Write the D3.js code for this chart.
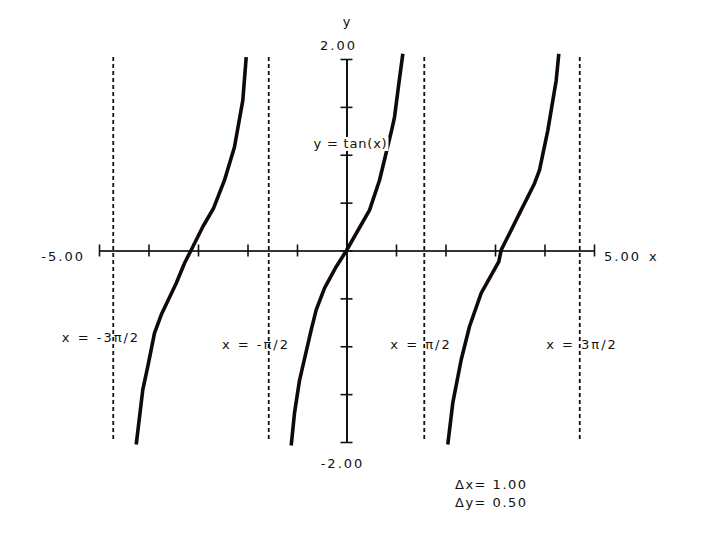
<!DOCTYPE html>
<html>
<head>
<meta charset="utf-8">
<script src="https://cdn.jsdelivr.net/npm/d3@7"></script>
<style>
  html, body { margin: 0; padding: 0; background: #fff; }
  svg { display: block; }
  text { font-family: "DejaVu Sans", Verdana, sans-serif; font-size: 13px; fill: #111; }
</style>
</head>
<body>
<svg id="chart" width="720" height="540"></svg>
<script>
// ---- data ----
const xDomain = [-5, 5];
const yDomain = [-2, 2];
const xTickValues = [-5, -4, -3, -2, -1, 0, 1, 2, 3, 4, 5];
const yTickValues = [-2, -1.5, -1, -0.5, 0, 0.5, 1, 1.5, 2];
const xEndLabels = ["-5.00", "5.00"];
const yEndLabels = ["-2.00", "2.00"];
const asymptoteX = [-4.712, -1.571, 1.571, 4.712];
const asymptoteLabels = ["x = -3π/2", "x = -π/2", "x = π/2", "x = 3π/2"];
const curveLabel = "y = tan(x)";
const deltaLabels = ["Δx= 1.00", "Δy= 0.50"];

// tan(x) branches, [x, y] points
const branchLeft = [
  [-4.248, -2.026], [-4.115, -1.453], [-4.014, -1.21], [-3.879, -0.862],
  [-3.743, -0.672], [-3.44, -0.342], [-3.273, -0.133], [-3.137, 0.005],
  [-2.903, 0.248], [-2.687, 0.44], [-2.465, 0.734], [-2.263, 1.081],
  [-2.095, 1.568], [-2.026, 2.019]
];
const branchMid = [
  [-1.117, -2.036], [-1.05, -1.696], [-0.949, -1.356], [-0.713, -0.828],
  [-0.612, -0.62], [-0.444, -0.394], [-0.208, -0.169], [0.0, 0.0],
  [0.465, 0.422], [0.667, 0.734], [0.814, 1.047],
  [0.915, 1.262], [0.97, 1.394], [1.057, 1.742], [1.138, 2.054]
];
const branchRight = [
  [2.046, -2.026], [2.147, -1.592], [2.317, -1.141], [2.485, -0.794],
  [2.721, -0.446], [3.077, -0.117], [3.125, 0.005],
  [3.226, 0.109], [3.495, 0.388], [3.798, 0.70], [3.899, 0.839],
  [4.067, 1.255], [4.236, 1.776], [4.289, 2.054]
];

// ---- drawing ----
const svg = d3.select("#chart");
const x = d3.scaleLinear().domain(xDomain).range([99, 594]);
const y = d3.scaleLinear().domain(yDomain).range([442, 59]);

// asymptotes
svg.append("g").selectAll("line").data(asymptoteX).join("line")
  .attr("x1", d => x(d)).attr("x2", d => x(d))
  .attr("y1", y(2) - 2).attr("y2", y(-2))
  .attr("stroke", "#111").attr("stroke-width", 1.8)
  .attr("stroke-dasharray", "4,3");

// x axis
const xAxisG = svg.append("g").attr("transform", `translate(0,${y(0)})`);
xAxisG.call(d3.axisBottom(x).tickValues(xTickValues).tickSizeInner(0).tickSizeOuter(0).tickFormat(""));
xAxisG.select(".domain").attr("stroke", "#333").attr("stroke-width", 2);
xAxisG.selectAll(".tick line").remove();
xAxisG.selectAll(".tick").append("line")
  .attr("y1", -6).attr("y2", 6).attr("stroke", "#111").attr("stroke-width", 1.6);

// y axis
const yAxisG = svg.append("g").attr("transform", `translate(${x(0)},0)`);
yAxisG.call(d3.axisLeft(y).tickValues(yTickValues).tickSizeInner(0).tickSizeOuter(0).tickFormat(""));
yAxisG.select(".domain").attr("stroke", "#111").attr("stroke-width", 2);
yAxisG.selectAll(".tick line").remove();
yAxisG.selectAll(".tick").append("line")
  .attr("x1", -6).attr("x2", 6).attr("stroke", "#111").attr("stroke-width", 1.6);

// curve
const line = d3.line().x(d => x(d[0])).y(d => y(d[1]));
svg.append("g").selectAll("path").data([branchLeft, branchMid, branchRight]).join("path")
  .attr("d", line).attr("fill", "none").attr("stroke", "#110808")
  .attr("stroke-width", 3.6).attr("stroke-linejoin", "round");

// curve label with white background
const cl = svg.append("g");
const clText = cl.append("text").attr("x", x(0) + 4).attr("y", 148)
  .attr("text-anchor", "middle").style("letter-spacing", "0.8px").text(curveLabel);
const bb = clText.node().getBBox();
cl.insert("rect", "text").attr("x", bb.x - 1).attr("y", bb.y + 1)
  .attr("width", bb.width + 2).attr("height", bb.height - 1).attr("fill", "#fff");

// axis end labels
svg.append("text").attr("x", 85).attr("y", 261).attr("text-anchor", "end")
  .style("letter-spacing", "2px").text(xEndLabels[0]);
svg.append("text").attr("x", 604).attr("y", 261).attr("text-anchor", "start")
  .style("letter-spacing", "2px").text(xEndLabels[1]);
svg.append("text").attr("x", 649).attr("y", 261).text("x");
svg.append("text").attr("x", x(0) - 4).attr("y", 468).attr("text-anchor", "middle")
  .style("letter-spacing", "2px").text(yEndLabels[0]);
svg.append("text").attr("x", x(0) - 8).attr("y", 50).attr("text-anchor", "middle")
  .style("letter-spacing", "2px").text(yEndLabels[1]);
svg.append("text").attr("x", x(0)).attr("y", 26).attr("text-anchor", "middle").text("y");

// asymptote labels
const labelPos = [[101, 342], [256, 349], [421, 349], [582, 349]];
svg.append("g").selectAll("text").data(asymptoteLabels).join("text")
  .attr("x", (d, i) => labelPos[i][0]).attr("y", (d, i) => labelPos[i][1])
  .attr("text-anchor", "middle").style("letter-spacing", "2px")
  .text(d => d);

// delta labels
svg.append("g").selectAll("text").data(deltaLabels).join("text")
  .attr("x", 455).attr("y", (d, i) => 489 + i * 18)
  .style("letter-spacing", "1.5px").text(d => d);
</script>
</body>
</html>
